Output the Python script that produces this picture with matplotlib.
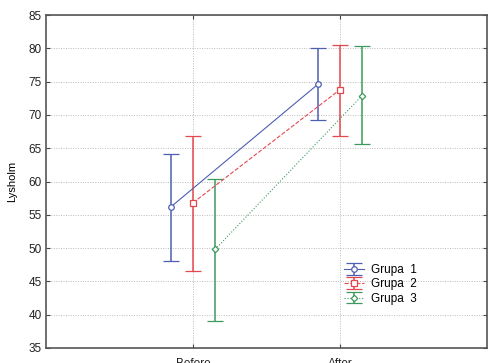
import matplotlib.pyplot as plt
import numpy as np

plt.rcParams['font.family'] = ['Liberation Sans', 'DejaVu Sans']

categories = ['Before', 'After']
groups = ['Grupa  1', 'Grupa  2', 'Grupa  3']
means = [[56.2, 74.6], [56.8, 73.8], [49.8, 72.9]]
upper = [[64.2, 80.0], [66.8, 80.5], [60.4, 80.3]]
lower = [[48.1, 69.3], [46.6, 66.8], [39.0, 65.7]]

colors = ['#4d5fb0', '#e5484c', '#3d9a5e']
markers = ['o', 's', 'D']
styles = ['-', '--', ':']
offsets = [-0.15, 0.0, 0.15]

fig = plt.figure(figsize=(4.88, 3.63), dpi=100)
ax = fig.add_axes([46 / 488, 1 - 348 / 363, 441 / 488, 333 / 363])

x = np.arange(1, len(categories) + 1)
for i in range(3):
    m = np.array(means[i])
    yerr = [m - np.array(lower[i]), np.array(upper[i]) - m]
    ax.errorbar(x + offsets[i], m, yerr=yerr, color=colors[i], ls=styles[i],
                lw=0.8, marker=markers[i], ms=4 if i < 2 else 3.3,
                mfc='white', mec=colors[i], mew=0.9, capsize=6, capthick=1.1,
                elinewidth=1.1, label=groups[i])

ax.set_xlim(0, 3)
ax.set_ylim(35, 85)
ax.set_xticks(x)
ax.set_xticklabels(categories)
ax.set_yticks(np.arange(35, 86, 5))
ax.set_ylabel('Lysholm', fontsize=8, labelpad=8)
ax.tick_params(labelsize=8.5, direction='in', length=3, color='#444444',
               top=True, right=True, labelcolor='#222222', pad=3)
ax.tick_params(axis='x', pad=7)
ax.grid(True, ls=(0, (1, 1.5)), color='#bbbbbb', lw=0.7)
for s in ax.spines.values():
    s.set_color('#555555')
    s.set_linewidth(1.2)

ax.legend(loc='upper left', bbox_to_anchor=(344 / 488, 1 - 264 / 363),
          bbox_transform=fig.transFigure, frameon=False, fontsize=8.5,
          handlelength=1.7, handletextpad=0.6, labelspacing=0.2,
          borderpad=0, borderaxespad=0)

fig.savefig('out.png', dpi=100)
